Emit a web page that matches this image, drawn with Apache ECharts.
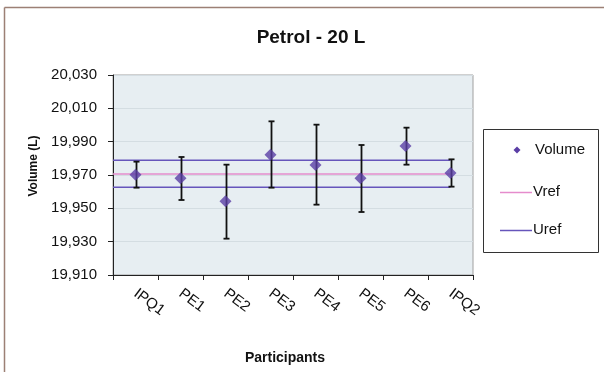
<!DOCTYPE html>
<html><head><meta charset="utf-8">
<script src="https://cdn.jsdelivr.net/npm/echarts@6/dist/echarts.min.js"></script>
<style>html,body{margin:0;padding:0;background:#fff}#c{width:604px;height:372px}</style>
</head><body><div id="c"></div>
<script>
var categories = ['IPQ1','PE1','PE2','PE3','PE4','PE5','PE6','IPQ2'];
var volume = [19970.2, 19968.0, 19954.3, 19982.2, 19976.0, 19968.0, 19987.4, 19971.2];
var errLow = [19962.4, 19955.0, 19931.8, 19962.4, 19952.2, 19947.8, 19976.2, 19963.0];
var errHigh = [19978.0, 19980.8, 19976.2, 20002.2, 20000.2, 19988.0, 19998.4, 19979.4];
var vref = 19970.6;
var urefLow = 19962.6;
var urefHigh = 19978.8;
var yTicks = [19910, 19930, 19950, 19970, 19990, 20010, 20030];
var refSpan = [0, 7.5];
var legendNames = ['Volume', 'Vref', 'Uref'];

var font = 'Liberation Sans, Arial, sans-serif';
var txt = '#111';
var cVol = '#5a3ea5', cVref = '#e58ccc', cUref = '#6655bb';
function fmt(v){ return String(v).replace(/\B(?=(\d{3})+(?!\d))/g, ','); }

var chart = echarts.init(document.getElementById('c'), null, {renderer:'canvas'});
var errData = categories.map(function(c,i){ return [i, errLow[i], errHigh[i]]; });

var g = [
  {type:'line', shape:{x1:4.5, y1:7.5, x2:610, y2:7.5}, silent:true, style:{stroke:'#9c8075', lineWidth:1.5}},
  {type:'line', shape:{x1:4.5, y1:7.5, x2:4.5, y2:380}, silent:true, style:{stroke:'#9c8075', lineWidth:1.5}},
  {type:'text', x:34, y:166, rotation:Math.PI/2, silent:true,
    style:{text:'Volume (L)', fontFamily:font, fontSize:12, fontWeight:'bold', fill:txt, align:'center', verticalAlign:'middle'}},
  {type:'rect', shape:{x:483.5, y:129.5, width:115, height:123}, silent:true, style:{fill:'#fff', stroke:'#333', lineWidth:1}},
  {type:'polygon', shape:{points:[[517,146.5],[520.5,150],[517,153.5],[513.5,150]]}, silent:true, style:{fill:cVol}},
  {type:'text', x:535, y:150, silent:true, style:{text:legendNames[0], fontFamily:font, fontSize:15, fill:txt, verticalAlign:'middle'}},
  {type:'line', shape:{x1:500, y1:192.5, x2:532, y2:192.5}, silent:true, style:{stroke:cVref, lineWidth:1.5}},
  {type:'text', x:533, y:192, silent:true, style:{text:legendNames[1], fontFamily:font, fontSize:15, fill:txt, verticalAlign:'middle'}},
  {type:'line', shape:{x1:500, y1:230.5, x2:532, y2:230.5}, silent:true, style:{stroke:cUref, lineWidth:1.5}},
  {type:'text', x:533, y:230, silent:true, style:{text:legendNames[2], fontFamily:font, fontSize:15, fill:txt, verticalAlign:'middle'}}
];

chart.setOption({
  animation:false,
  backgroundColor:'#fff',
  textStyle:{fontFamily:font},
  title:{text:'Petrol - 20 L', left:306, top:23, textAlign:'center',
    textStyle:{fontFamily:font, fontSize:19, fontWeight:'bold', color:txt}},
  graphic:g,
  grid:{left:113, top:75, width:360, height:200, show:true, backgroundColor:'#e7eef2', borderColor:'#a0a0a0', borderWidth:1},
  xAxis:[{type:'category', data:categories, boundaryGap:true,
      axisLine:{lineStyle:{color:'#222', width:1}},
      axisTick:{show:true, length:5, lineStyle:{color:'#222'}},
      axisLabel:{rotate:-37, margin:17, fontFamily:font, fontSize:15, color:txt},
      name:'Participants', nameLocation:'middle', nameGap:76,
      nameTextStyle:{fontFamily:font, fontSize:14, fontWeight:'bold', color:txt, padding:[0,16,0,0]}},
    {type:'value', min:0, max:8, show:false}],
  yAxis:{type:'value', min:yTicks[0], max:yTicks[yTicks.length-1], interval:yTicks[1]-yTicks[0],
    axisLine:{show:true, lineStyle:{color:'#222'}},
    axisTick:{show:true, length:5, lineStyle:{color:'#222'}},
    axisLabel:{fontFamily:font, fontSize:15, color:txt, margin:16, formatter:function(v){return fmt(v);}},
    splitLine:{show:true, lineStyle:{color:'#d4dde2', width:1}}},
  series:[
    {name:'Vref', type:'line', xAxisIndex:1, symbol:'none', data:[[refSpan[0], vref],[refSpan[1], vref]],
      lineStyle:{color:cVref, width:1.5}, z:2},
    {name:'Uref', type:'line', xAxisIndex:1, symbol:'none', data:[[refSpan[0], urefHigh],[refSpan[1], urefHigh]],
      lineStyle:{color:cUref, width:1.5}, z:2},
    {name:'Uref', type:'line', xAxisIndex:1, symbol:'none', data:[[refSpan[0], urefLow],[refSpan[1], urefLow]],
      lineStyle:{color:cUref, width:1.5}, z:2},
    {name:'err', type:'custom', data:errData, z:3,
      renderItem:function(params, api){
        var lo = api.coord([api.value(0), api.value(1)]);
        var hi = api.coord([api.value(0), api.value(2)]);
        var x = Math.round(lo[0])+0.5, cw = 3;
        var st = {stroke:'#111', lineWidth:1.8};
        return {type:'group', children:[
          {type:'line', shape:{x1:x, y1:lo[1], x2:x, y2:hi[1]}, style:st},
          {type:'line', shape:{x1:x-cw, y1:lo[1], x2:x+cw, y2:lo[1]}, style:st},
          {type:'line', shape:{x1:x-cw, y1:hi[1], x2:x+cw, y2:hi[1]}, style:st}
        ]};
      }},
    {name:'Volume', type:'scatter', data:volume, symbol:'diamond', symbolSize:[12,12],
      itemStyle:{color:cVol}, z:5}
  ]
});
</script></body></html>
